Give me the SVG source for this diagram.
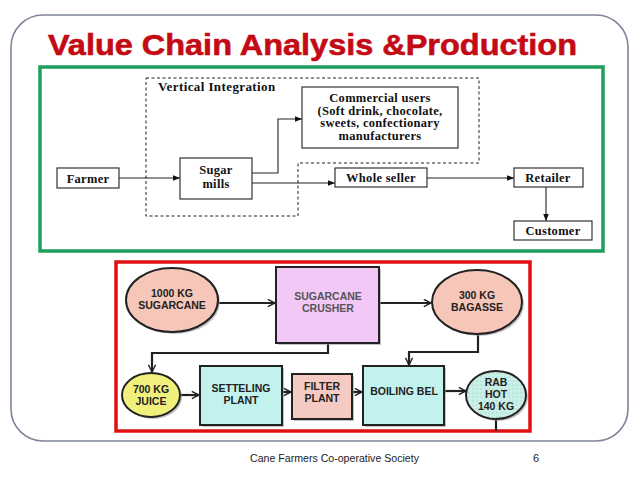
<svg xmlns="http://www.w3.org/2000/svg" width="638" height="479" viewBox="0 0 638 479">
<defs>
<marker id="tri" viewBox="0 0 10 10" refX="10" refY="5" markerWidth="7" markerHeight="7" markerUnits="userSpaceOnUse" orient="auto"><path d="M0,1 L10,5 L0,9 z" fill="#111"/></marker>
<marker id="vee" viewBox="0 0 10 10" refX="9" refY="5" markerWidth="9" markerHeight="9" markerUnits="userSpaceOnUse" orient="auto"><path d="M1,1 L9,5 L1,9" fill="none" stroke="#222" stroke-width="1.6"/></marker>
<pattern id="dots" width="4" height="4" patternUnits="userSpaceOnUse"><rect width="4" height="4" fill="#c9f0e8"/><circle cx="1" cy="1" r="0.5" fill="#8fb8b0"/></pattern>
</defs>
<style>
.box{fill:#fff;stroke:#333;stroke-width:1.2}
.ser{font-family:"Liberation Serif","Times New Roman",serif;font-weight:bold;font-size:12.5px;letter-spacing:0.3px;fill:#111;text-anchor:middle}
.san{font-family:"Liberation Sans",Arial,sans-serif;font-weight:bold;font-size:10.5px;fill:#222;text-anchor:middle}
.shp{stroke:#222;stroke-width:2}
.sh{fill:#999;opacity:0.6}
.c1{fill:none;stroke:#222;stroke-width:1.1}
.c2{fill:none;stroke:#222;stroke-width:2.2}
</style>
<rect x="0" y="0" width="638" height="479" fill="#fff"/>
<rect x="11" y="15" width="617" height="426" rx="32" ry="32" fill="#fff" stroke="#7d8598" stroke-width="1.6"/>
<text x="48" y="55" font-family="Liberation Sans,Arial,sans-serif" font-weight="bold" font-size="29.5" fill="#c40a14" stroke="#c40a14" stroke-width="0.6" textLength="529" lengthAdjust="spacingAndGlyphs">Value Chain Analysis &amp;Production</text>

<rect x="40" y="67" width="563" height="184" fill="#fff" stroke="#1f9e5c" stroke-width="3.5"/>
<path d="M146,78 H479 V163 H298 V216 H146 Z" fill="none" stroke="#222" stroke-width="1" stroke-dasharray="3,2.5"/>
<text x="158" y="91" font-family="Liberation Serif,Times New Roman,serif" font-weight="bold" font-size="13" letter-spacing="0.4" fill="#111">Vertical Integration</text>

<g id="connectors-top">
<path class="c1" d="M118,178 H180" marker-end="url(#tri)"/>
<path class="c1" d="M252,173 H278 V119 H302" marker-end="url(#tri)"/>
<path class="c1" d="M252,183 H335" marker-end="url(#tri)"/>
<path class="c1" d="M427,178 H514" marker-end="url(#tri)"/>
<path class="c1" d="M546,187 V221" marker-end="url(#tri)"/>
</g>
<g id="farmer"><rect class="box" x="57" y="168" width="62" height="20"/><text class="ser" x="88" y="182.5">Farmer</text></g>
<g id="sugar-mills"><rect class="box" x="180" y="158" width="72" height="41"/><text class="ser" x="216" y="174">Sugar</text><text class="ser" x="216" y="188">mills</text></g>
<g id="commercial"><rect class="box" x="302" y="87" width="156" height="61"/>
<text class="ser" x="380" y="102">Commercial users</text>
<text class="ser" x="380" y="114.5">(Soft drink, chocolate,</text>
<text class="ser" x="380" y="127">sweets, confectionary</text>
<text class="ser" x="380" y="139.5">manufacturers</text></g>
<g id="whole-seller"><rect class="box" x="335" y="168" width="92" height="19"/><text class="ser" x="381" y="182">Whole seller</text></g>
<g id="retailer"><rect class="box" x="514" y="168" width="69" height="19"/><text class="ser" x="548" y="182">Retailer</text></g>
<g id="customer"><rect class="box" x="514" y="221" width="78" height="19"/><text class="ser" x="553" y="235">Customer</text></g>

<rect x="116" y="262" width="414" height="169" fill="#fff" stroke="#e01010" stroke-width="3.5"/>

<g id="connectors-bottom">
<path class="c2" d="M219,303 H275" marker-end="url(#vee)"/>
<path class="c2" d="M379,303 H431" marker-end="url(#vee)"/>
<path class="c2" d="M328,343 V353 H152 V372" marker-end="url(#vee)"/>
<path class="c2" d="M181,395 H199" marker-end="url(#vee)"/>
<path class="c2" d="M282,392 H291" marker-end="url(#vee)"/>
<path class="c2" d="M352,392 H362" marker-end="url(#vee)"/>
<path class="c2" d="M478,335 V352 H409 V365" marker-end="url(#vee)"/>
<path class="c2" d="M444,391 H466" marker-end="url(#vee)"/>
<path class="c2" d="M496,419 V431"/>
</g>
<g id="sugarcane"><ellipse class="sh" cx="174" cy="302" rx="46" ry="32"/><ellipse class="shp" cx="172" cy="300" rx="46" ry="32" fill="#f6c7b9"/>
<text class="san" x="172" y="297">1000 KG</text><text class="san" x="172" y="309">SUGARCANE</text></g>
<g id="crusher"><rect class="sh" x="278" y="269" width="103" height="76"/><rect class="shp" x="276" y="267" width="103" height="76" fill="#f2c8f7"/>
<text class="san" x="328" y="300" style="fill:#555">SUGARCANE</text><text class="san" x="328" y="312" style="fill:#555">CRUSHER</text></g>
<g id="bagasse"><ellipse class="sh" cx="479" cy="304" rx="45" ry="32"/><ellipse class="shp" cx="477" cy="302" rx="45" ry="32" fill="#f6c7b9"/>
<text class="san" x="477" y="299">300 KG</text><text class="san" x="477" y="311">BAGASSE</text></g>
<g id="juice"><ellipse class="sh" cx="153" cy="397" rx="29" ry="22"/><ellipse class="shp" cx="151" cy="395" rx="29" ry="22" fill="#f2f07c"/>
<text class="san" x="151" y="393">700 KG</text><text class="san" x="151" y="405">JUICE</text></g>
<g id="setteling"><rect class="sh" x="202" y="368" width="82" height="59"/><rect class="shp" x="200" y="366" width="82" height="59" fill="#c2f2ee"/>
<text class="san" x="241" y="392">SETTELING</text><text class="san" x="241" y="404">PLANT</text></g>
<g id="filter"><rect class="sh" x="294" y="376" width="60" height="45"/><rect class="shp" x="292" y="374" width="60" height="45" fill="#f5cac2"/>
<text class="san" x="322" y="390">FILTER</text><text class="san" x="322" y="402">PLANT</text></g>
<g id="boiling"><rect class="sh" x="365" y="368" width="81" height="59"/><rect class="shp" x="363" y="366" width="81" height="59" fill="#c2f2ee"/>
<text class="san" x="404" y="395">BOILING BEL</text></g>
<g id="rab-hot"><ellipse class="sh" cx="498" cy="397" rx="30" ry="24"/><ellipse class="shp" cx="496" cy="395" rx="30" ry="24" fill="url(#dots)"/>
<text class="san" x="496" y="386">RAB</text><text class="san" x="496" y="398">HOT</text><text class="san" x="496" y="410">140 KG</text></g>

<text x="250" y="462" font-family="Liberation Sans,Arial,sans-serif" font-size="10.6" fill="#222">Cane Farmers Co-operative Society</text>
<text x="533" y="462" font-family="Liberation Sans,Arial,sans-serif" font-size="11" fill="#222">6</text>
</svg>
